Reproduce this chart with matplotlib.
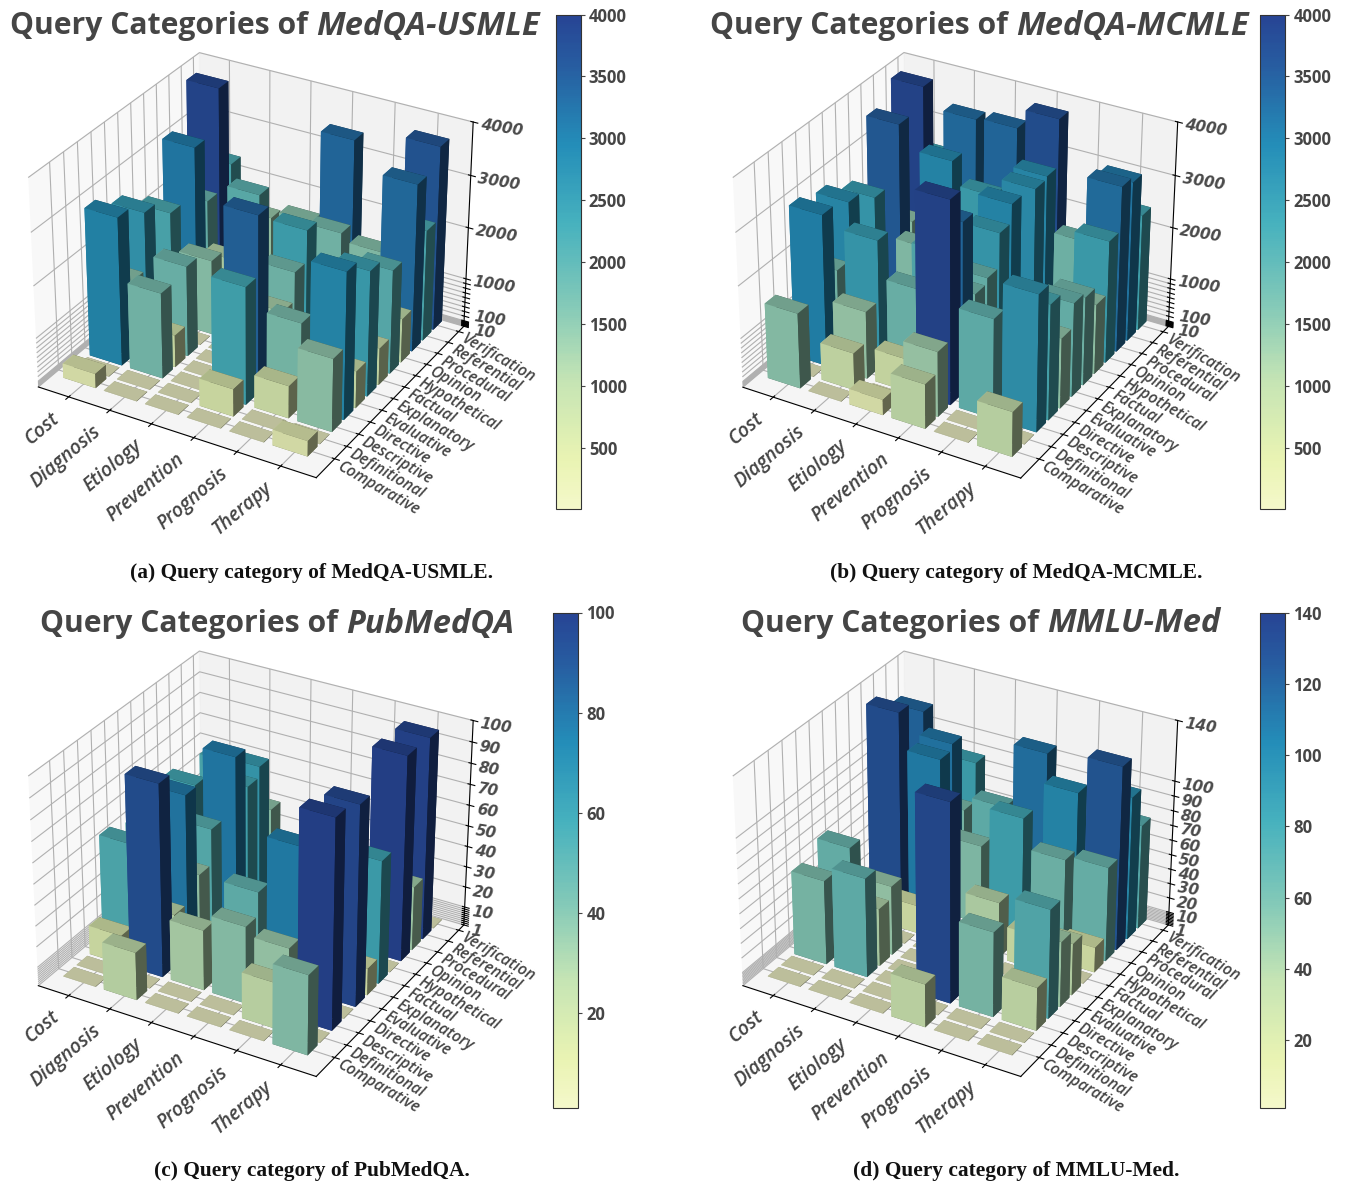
import numpy as np
import matplotlib
matplotlib.use('Agg')
import matplotlib.pyplot as plt
from matplotlib.colors import ListedColormap, Normalize
from matplotlib.cm import ScalarMappable
from mpl_toolkits.mplot3d import proj3d

W, H = 1346, 1186
x_labels = ['Cost', 'Diagnosis', 'Etiology', 'Prevention', 'Prognosis', 'Therapy']
y_labels = ['Comparative', 'Definitional', 'Descriptive', 'Directive', 'Evaluative', 'Explanatory',
            'Factual', 'Hypothetical', 'Opinion', 'Procedural', 'Referential', 'Verification']

usmle_values = [
    [280, 10, 2900, 1500, 2600, 10, 2200, 10, 3080, 1850, 3850, 2200],
    [10, 10, 1700, 650, 1800, 10, 1500, 10, 1100, 10, 2000, 1350],
    [10, 10, 10, 10, 10, 10, 10, 10, 10, 10, 10, 1500],
    [10, 550, 2300, 3420, 10, 1200, 1750, 2350, 10, 10, 1700, 3300],
    [10, 10, 650, 1650, 10, 10, 10, 10, 10, 10, 1550, 10],
    [300, 10, 1450, 2850, 750, 2450, 750, 2050, 900, 3270, 2200, 3600],
]
mcmle_values = [
    [1500, 10, 2950, 1700, 2800, 10, 2500, 10, 3520, 1450, 3880, 2400],
    [10, 750, 1350, 2500, 10, 10, 10, 1550, 10, 2850, 10, 3280],
    [300, 10, 650, 1800, 10, 2100, 10, 10, 10, 2400, 10, 3320],
    [900, 1300, 3900, 3300, 1750, 1850, 2500, 2850, 10, 2750, 2800, 3700],
    [10, 10, 1950, 10, 10, 10, 10, 10, 10, 10, 1750, 10],
    [900, 10, 2650, 2250, 1400, 1850, 1750, 1400, 2400, 3230, 3120, 2300],
]
pubmed_values = [
    [1, 1, 15, 54, 1, 50, 1, 1, 58, 1, 1, 55],
    [24, 1, 93, 26, 78, 35, 52, 1, 77, 58, 63, 37],
    [1, 1, 30, 1, 1, 1, 1, 1, 1, 1, 1, 1],
    [1, 1, 38, 49, 1, 1, 1, 1, 1, 1, 1, 1],
    [1, 23, 34, 76, 1, 1, 62, 1, 1, 1, 1, 1],
    [39, 1, 100, 1, 96, 14, 60, 1, 99, 32, 98, 1],
]
mmlu_values = [
    [1, 1, 58, 1, 66, 1, 1, 1, 130, 1, 118, 1],
    [1, 1, 68, 40, 48, 1, 20, 1, 106, 110, 58, 84],
    [1, 1, 1, 1, 1, 1, 1, 1, 55, 1, 68, 1],
    [30, 1, 134, 1, 1, 1, 39, 1, 82, 1, 112, 1],
    [1, 1, 58, 1, 1, 1, 24, 1, 62, 100, 1, 1],
    [1, 1, 30, 74, 45, 36, 1, 18, 65, 125, 98, 72],
]

ticks_a = [10, 20, 30, 40, 50, 60, 70, 80, 90, 100, 200, 300, 400, 500, 600, 700, 800, 900, 1000, 2000, 3000, 4000]
ticks_c = [1, 2, 3, 4, 5, 6, 7, 8, 9, 10, 20, 30, 40, 50, 60, 70, 80, 90, 100]
ticks_d = [1, 2, 3, 4, 5, 6, 7, 8, 9, 10, 20, 30, 40, 50, 60, 70, 80, 90, 100, 140]
named_a = [10, 100, 1000, 2000, 3000, 4000]
named_c = [1, 10, 20, 30, 40, 50, 60, 70, 80, 90, 100]
named_d = named_c + [140]
cb_a = [500, 1000, 1500, 2000, 2500, 3000, 3500, 4000]
cb_c = [20, 40, 60, 80, 100]
cb_d = [20, 40, 60, 80, 100, 120, 140]

scale_a = ([10, 100, 1000, 4000], [0.0, 0.028, 0.24, 1.0])
scale_c = ([1, 100], [0.0, 1.0])
scale_d = ([1, 140], [0.0, 1.0])

base = plt.get_cmap('YlGnBu')(np.linspace(0.05, 0.83, 256))
gray = base[:, :3].mean(axis=1, keepdims=True)
base[:, :3] = (gray + 0.92 * (base[:, :3] - gray)) * 0.99
base[-1] = [0.03, 0.11, 0.35, 1.0]
cmap = ListedColormap(base)

TXT = '#454545'
plt.rcParams['font.family'] = ['Open Sans', 'DejaVu Sans']
fig = plt.figure(figsize=(W / 100, H / 100), dpi=100)


def panel(values, scale, ticks, named, cb_ticks, vmin, vmax, corners, cbar_box, title, name, title_box, caption, cap_xy):
    ax = fig.add_axes([0.1, 0.1, 0.4, 0.4], projection='3d', computed_zorder=False)
    ax.apply_aspect = lambda position=None: None
    values = np.asarray(values, float)
    norm = Normalize(vmin, vmax)
    pos = lambda v: np.interp(v, scale[0], scale[1])
    w = 0.8
    order = 1
    for j in range(11, -1, -1):
        for i in range(6):
            v = values[i, j]
            bar = ax.bar3d(i - 0.1 - w / 2, j - w / 2, 0, w, w, max(pos(v), 0.002),
                           color=cmap(min(norm(v), 0.99)))
            bar.set_zorder(order)
            order += 1
    ax.set_xlim(-0.75, 5.8)
    ax.set_ylim(-1.5, 11.5)
    ax.set_zlim(0, 1)
    ax.set_xticks(range(6))
    ax.set_yticks(range(12))
    ax.set_xticklabels(x_labels, rotation=40, ha='right', va='top', fontsize=14, style='italic',
                       fontweight='semibold', color=TXT)
    ax.set_yticklabels(y_labels, rotation=-30, ha='left', va='top', fontsize=11.3, style='italic',
                       fontweight='semibold', color=TXT)
    ax.set_zticks(pos(np.array(ticks, float)))
    ax.set_zticklabels([''] * len(ticks))
    ax.tick_params(axis='x', pad=-2)
    ax.tick_params(axis='y', pad=-8)

    # place the axes rectangle so that the cube corners land where the reference has them
    M = ax.get_proj()
    x0, x1, y0, y1 = -0.75, 5.8, -1.5, 11.5
    cube = [(x0, y0, 0), (x1, y0, 0), (x1, y1, 0), (x0, y1, 1), (x0, y0, 1), (x1, y1, 1)]
    px, py, _ = proj3d.proj_transform(*np.array(cube).T, M)
    vl = ax.viewLim
    fx = (px - vl.x0) / vl.width
    fy = (py - vl.y0) / vl.height
    tx = np.array([c[0] for c in corners])
    ty = H - np.array([c[1] for c in corners])
    wx, lx = np.polyfit(fx, tx, 1)
    wy, ly = np.polyfit(fy, ty, 1)
    ax.set_position([lx / W, ly / H, wx / W, wy / H])
    ax.patch.set_alpha(0)

    # z labels sit just beside the z axis, following its tick positions
    for t in named:
        zp = float(pos(t))
        xs, ys, _ = proj3d.proj_transform(x1, y1, zp, M)
        off = (6, -6)
        if vmax == 4000 and t == 100:
            off = (9, 2)
        elif vmax == 4000 and t == 10:
            off = (9, -6)
        ax.annotate(str(t), xy=(xs, ys), xycoords='data', xytext=off, textcoords='offset pixels',
                    rotation=-9, fontsize=11, family='DejaVu Sans', style='oblique', fontweight='bold',
                    color='#4a4a4a', ha='left', va='center', annotation_clip=False)

    cax = fig.add_axes([cbar_box[0] / W, 1 - cbar_box[3] / H, (cbar_box[2] - cbar_box[0]) / W,
                        (cbar_box[3] - cbar_box[1]) / H])
    cb = fig.colorbar(ScalarMappable(norm, cmap), cax=cax)
    cb.set_ticks(cb_ticks)
    cb.ax.tick_params(labelsize=12, colors=TXT, length=3, pad=3)
    for t in cb.ax.get_yticklabels():
        t.set_fontweight('bold')
        t.set_color(TXT)
    cb.outline.set_edgecolor('#333333')
    cb.outline.set_linewidth(0.8)

    r = fig.canvas.get_renderer()
    t1 = fig.text(title_box[0] / W, 1 - title_box[1] / H, title, fontsize=21.7, fontweight='bold',
                  color=TXT, ha='left', va='center')
    e = t1.get_window_extent(r)
    fig.text(e.x1 / W, 1 - title_box[1] / H, name, fontsize=23.5, fontweight='bold', style='italic',
             color=TXT, ha='left', va='center')
    fig.text(cap_xy[0] / W, 1 - cap_xy[1] / H, caption, family=['Liberation Serif'], fontsize=15.4, fontweight='bold',
             color='#111111', ha='center', va='center')


panel(usmle_values, scale_a, ticks_a, named_a, cb_a, 10, 4000,
      [(38.3, 385.8), (315.7, 478), (463, 327.4), (199, 52.7), (28.7, 176.9), (474.5, 122.3)],
      (555.5, 14.5, 580.5, 509), 'Query Categories of ', 'MedQA-USMLE', (10, 26),
      '(a) Query category of MedQA-USMLE.', (312, 573))
panel(mcmle_values, scale_a, ticks_a, named_a, cb_a, 10, 4000,
      [(742.4, 385.8), (1021.4, 478.7), (1167.6, 327.4), (904, 52.7), (733, 176.9), (1178, 122.3)],
      (1259.5, 14.5, 1285, 509), 'Query Categories of ', 'MedQA-MCMLE', (710, 26),
      '(b) Query category of MedQA-MCMLE.', (1016, 573))
panel(pubmed_values, scale_c, ticks_c, named_c, cb_c, 1, 100,
      [(38.3, 985.7), (315.7, 1076.5), (463, 925), (199, 651.2), (28.7, 775.6), (474.5, 720.7)],
      (553, 612.5, 578, 1108), 'Query Categories of ', 'PubMedQA', (40, 624),
      '(c) Query category of PubMedQA.', (312, 1171))
panel(mmlu_values, scale_d, ticks_d, named_d, cb_d, 1, 140,
      [(742.4, 985.7), (1021.4, 1076.5), (1167.6, 925), (904, 651.2), (733, 775.6), (1178, 720.7)],
      (1259.5, 612.5, 1285, 1108), 'Query Categories of ', 'MMLU-Med', (741, 624),
      '(d) Query category of MMLU-Med.', (1016, 1171))

fig.savefig('out.png', dpi=100)
